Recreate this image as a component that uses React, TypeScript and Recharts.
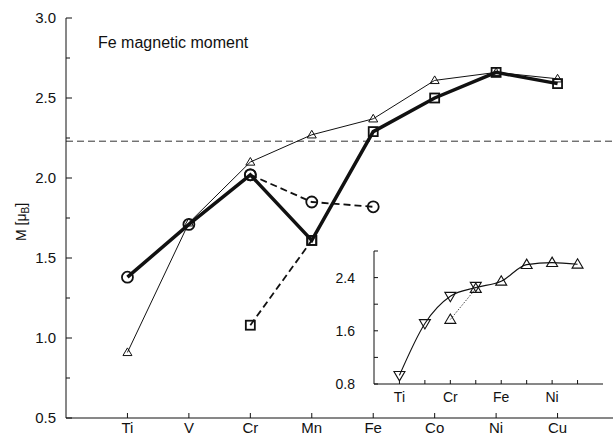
import React from 'react';
import { LineChart, Line, XAxis, YAxis, ReferenceLine } from 'recharts';

const elements = ['Ti', 'V', 'Cr', 'Mn', 'Fe', 'Co', 'Ni', 'Cu'];
const triangleMoment = [0.91, 1.72, 2.1, 2.27, 2.37, 2.61, 2.66, 2.62];
const thickMoment = [1.38, 1.71, 2.02, 1.61, 2.29, 2.5, 2.66, 2.59];
const thickMarker = ['circle', 'circle', 'circle', 'square', 'square', 'square', 'square', 'square'];
const dashedCircle = [null, null, 2.02, 1.85, 1.82, null, null, null];
const dashedSquare = [null, null, 1.08, 1.61, null, null, null, null];
const bulkLevel = 2.23;
const mainYTicks = [0.5, 0.75, 1.0, 1.25, 1.5, 1.75, 2.0, 2.25, 2.5, 2.75, 3.0];

const insetDown = [0.93, 1.71, 2.12, 2.27, null, null, null, null];
const insetUp = [null, null, 1.77, 2.235, 2.345, 2.595, 2.625, 2.6];
const insetCurve = [0.93, 1.71, 2.12, 2.25, 2.345, 2.595, 2.625, 2.6];
const insetDotted = [null, null, 1.77, 2.235, null, null, null, null];
const insetLabels = ['Ti', '', 'Cr', '', 'Fe', '', 'Ni', ''];
const insetYTicks = [0.8, 1.2, 1.6, 2.0, 2.4, 2.8];
const insetYLabels = [0.8, 1.6, 2.4];

const positions = elements.map((_, i) => i + 1);

const mainData = elements.map((el, i) => ({
  x: i + 1,
  el,
  tri: triangleMoment[i],
  thick: thickMoment[i],
  dc: dashedCircle[i],
  ds: dashedSquare[i],
}));

const insetData = elements.map((el, i) => ({
  x: i + 1,
  down: insetDown[i],
  up: insetUp[i],
  curve: insetCurve[i],
  dotted: insetDotted[i],
}));

const FONT = '"Liberation Sans", Arial, Helvetica, sans-serif';
const INK = '#111';

const TriUp = ({ cx, cy, s = 4.5, sw = 1 }: any) =>
  cx == null || cy == null ? null : (
    <path
      d={`M${cx},${cy - s} L${cx + s},${cy + s * 0.7} L${cx - s},${cy + s * 0.7} Z`}
      fill="none"
      stroke={INK}
      strokeWidth={sw}
    />
  );
const TriDown = ({ cx, cy, s = 4.5, sw = 1 }: any) =>
  cx == null || cy == null ? null : (
    <path
      d={`M${cx},${cy + s} L${cx + s},${cy - s * 0.7} L${cx - s},${cy - s * 0.7} Z`}
      fill="none"
      stroke={INK}
      strokeWidth={sw}
    />
  );
const Circ = ({ cx, cy }: any) =>
  cx == null || cy == null ? null : <circle cx={cx} cy={cy} r={5.5} fill="none" stroke={INK} strokeWidth={1.8} />;
const Sq = ({ cx, cy }: any) =>
  cx == null || cy == null ? null : (
    <rect x={cx - 4.5} y={cy - 4.5} width={9} height={9} fill="none" stroke={INK} strokeWidth={1.8} />
  );

const mainTriDot = (p: any) => <TriUp key={`t${p.index}`} cx={p.cx} cy={p.cy} />;
const thickDot = (p: any) =>
  thickMarker[p.index] === 'circle' ? (
    <Circ key={`c${p.index}`} cx={p.cx} cy={p.cy} />
  ) : (
    <Sq key={`s${p.index}`} cx={p.cx} cy={p.cy} />
  );
const dcDot = (p: any) => (p.value == null ? <g key={`dc${p.index}`} /> : <Circ key={`dc${p.index}`} cx={p.cx} cy={p.cy} />);
const dsDot = (p: any) => (p.value == null ? <g key={`ds${p.index}`} /> : <Sq key={`ds${p.index}`} cx={p.cx} cy={p.cy} />);
const insetDownDot = (p: any) =>
  p.value == null ? <g key={`id${p.index}`} /> : <TriDown key={`id${p.index}`} cx={p.cx} cy={p.cy} s={5.5} sw={1.1} />;
const insetUpDot = (p: any) =>
  p.value == null ? <g key={`iu${p.index}`} /> : <TriUp key={`iu${p.index}`} cx={p.cx} cy={p.cy} s={5.5} sw={1.1} />;

const MainYTick = (props: any) => {
  const { x, y, payload } = props;
  const v = payload.value;
  const major = Math.abs(v * 2 - Math.round(v * 2)) < 1e-6;
  return (
    <g>
      <line x1={x} x2={x + (major ? 6 : 4)} y1={y} y2={y} stroke={INK} strokeWidth={1} />
      {major && (
        <text x={x - 10} y={y + 5} textAnchor="end" fontSize={15} fontFamily={FONT} fill={INK}>
          {v.toFixed(1)}
        </text>
      )}
    </g>
  );
};

const MainXTick = (props: any) => {
  const { x, y, payload } = props;
  return (
    <g>
      <line x1={x} x2={x} y1={y} y2={y - 5} stroke={INK} strokeWidth={1} />
      <text x={x} y={y + 15} textAnchor="middle" fontSize={15} fontFamily={FONT} fill={INK}>
        {elements[payload.value - 1]}
      </text>
    </g>
  );
};

const TopTick = (props: any) => {
  const { x, y } = props;
  return <line x1={x} x2={x} y1={y} y2={y + 5} stroke={INK} strokeWidth={1} />;
};

const InsetYTick = (props: any) => {
  const { x, y, payload } = props;
  const v = payload.value;
  const labeled = insetYLabels.some((l) => Math.abs(l - v) < 1e-6);
  return (
    <g>
      <line x1={x} x2={x + 4} y1={y} y2={y} stroke={INK} strokeWidth={1} />
      {labeled && (
        <text x={x - 19} y={y + 5} textAnchor="end" fontSize={14} fontFamily={FONT} fill={INK}>
          {v.toFixed(1)}
        </text>
      )}
    </g>
  );
};

const InsetRightTick = (props: any) => {
  const { x, y } = props;
  return <line x1={x} x2={x - 4} y1={y} y2={y} stroke={INK} strokeWidth={1} />;
};

const InsetXTick = (props: any) => {
  const { x, y, payload } = props;
  return (
    <g>
      <line x1={x} x2={x} y1={y} y2={y - 4} stroke={INK} strokeWidth={1} />
      <text x={x} y={y + 18} textAnchor="middle" fontSize={14} fontFamily={FONT} fill={INK}>
        {insetLabels[payload.value - 1]}
      </text>
    </g>
  );
};

const InsetTopTick = (props: any) => {
  const { x, y } = props;
  return <line x1={x} x2={x} y1={y} y2={y + 4} stroke={INK} strokeWidth={1} />;
};

const YLabel = (props: any) => {
  const vb = props.viewBox || { x: 0, y: 18, width: 66, height: 400 };
  const cx = vb.x + 26;
  const cy = vb.y + vb.height / 2 + 4;
  return (
    <text
      x={cx}
      y={cy}
      transform={`rotate(-90, ${cx}, ${cy})`}
      textAnchor="middle"
      fontSize={14}
      fontFamily={FONT}
      fill={INK}
    >
      M [μ
      <tspan fontSize={10} dy={3}>
        B
      </tspan>
      <tspan dy={-3}>]</tspan>
    </text>
  );
};

export default function App() {
  return (
    <div
      style={{
        position: 'absolute',
        left: 0,
        top: 0,
        width: 613,
        height: 436,
        overflow: 'hidden',
        background: '#fff',
      }}
    >
      <LineChart width={640} height={436} data={mainData} margin={{ top: 18, right: 21, left: 0, bottom: 0 }}>
        <XAxis
          dataKey="x"
          type="number"
          domain={[0, 9]}
          ticks={positions}
          height={18}
          tickSize={0}
          tickMargin={0}
          tickLine={false}
          axisLine={{ stroke: INK, strokeWidth: 1 }}
          tick={<MainXTick />}
          interval={0}
        />
        <XAxis
          xAxisId="top"
          orientation="top"
          dataKey="x"
          type="number"
          domain={[0, 9]}
          ticks={positions}
          height={0}
          tickSize={0}
          tickMargin={0}
          tickLine={false}
          axisLine={{ stroke: INK, strokeWidth: 1 }}
          tick={<TopTick />}
          interval={0}
        />
        <YAxis
          type="number"
          domain={[0.5, 3.0]}
          ticks={mainYTicks}
          width={66}
          tickSize={0}
          tickMargin={0}
          tickLine={false}
          axisLine={{ stroke: INK, strokeWidth: 1 }}
          tick={<MainYTick />}
          interval={0}
          label={<YLabel />}
        />
        <ReferenceLine y={bulkLevel} stroke="#333" strokeWidth={1} strokeDasharray="7 4" />
        <Line
          dataKey="tri"
          stroke={INK}
          strokeWidth={1}
          dot={mainTriDot}
          isAnimationActive={false}
        />
        <Line
          dataKey="dc"
          stroke={INK}
          strokeWidth={1.8}
          strokeDasharray="7 4"
          dot={dcDot}
          isAnimationActive={false}
        />
        <Line
          dataKey="ds"
          stroke={INK}
          strokeWidth={1.8}
          strokeDasharray="7 4"
          dot={dsDot}
          isAnimationActive={false}
        />
        <Line
          dataKey="thick"
          stroke={INK}
          strokeWidth={3.5}
          strokeLinejoin="miter"
          dot={thickDot}
          isAnimationActive={false}
        />
      </LineChart>

      <div
        style={{
          position: 'absolute',
          left: 98,
          top: 34,
          fontFamily: FONT,
          fontSize: 16,
          color: INK,
          whiteSpace: 'nowrap',
        }}
      >
        Fe magnetic moment
      </div>

      <div style={{ position: 'absolute', left: 324, top: 249 }}>
        <LineChart width={281} height={157} data={insetData} margin={{ top: 2, right: 2, left: 0, bottom: 0 }}>
          <XAxis
            dataKey="x"
            type="number"
            domain={[0, 9]}
            ticks={positions}
            height={22}
            tickSize={0}
            tickMargin={0}
            tickLine={false}
            axisLine={{ stroke: INK, strokeWidth: 1 }}
            tick={<InsetXTick />}
            interval={0}
          />
          <XAxis
            xAxisId="top"
            orientation="top"
            dataKey="x"
            type="number"
            domain={[0, 9]}
            ticks={positions}
            height={0}
            tickSize={0}
            tickMargin={0}
            tickLine={false}
            axisLine={{ stroke: INK, strokeWidth: 1 }}
            tick={<InsetTopTick />}
            interval={0}
          />
          <YAxis
            type="number"
            domain={[0.8, 2.8]}
            ticks={insetYTicks}
            width={50}
            tickSize={0}
            tickMargin={0}
            tickLine={false}
            axisLine={{ stroke: INK, strokeWidth: 1 }}
            tick={<InsetYTick />}
            interval={0}
          />
          <YAxis
            yAxisId="r"
            orientation="right"
            type="number"
            domain={[0.8, 2.8]}
            ticks={insetYTicks}
            width={0}
            tickSize={0}
            tickMargin={0}
            tickLine={false}
            axisLine={{ stroke: INK, strokeWidth: 1 }}
            tick={<InsetRightTick />}
            interval={0}
          />
          <Line
            dataKey="curve"
            type="monotone"
            stroke={INK}
            strokeWidth={1.1}
            dot={false}
            isAnimationActive={false}
          />
          <Line
            dataKey="dotted"
            stroke="#444"
            strokeWidth={1}
            strokeDasharray="1.5 1.5"
            dot={false}
            isAnimationActive={false}
          />
          <Line dataKey="down" stroke="none" dot={insetDownDot} isAnimationActive={false} />
          <Line dataKey="up" stroke="none" dot={insetUpDot} isAnimationActive={false} />
        </LineChart>
      </div>
    </div>
  );
}
